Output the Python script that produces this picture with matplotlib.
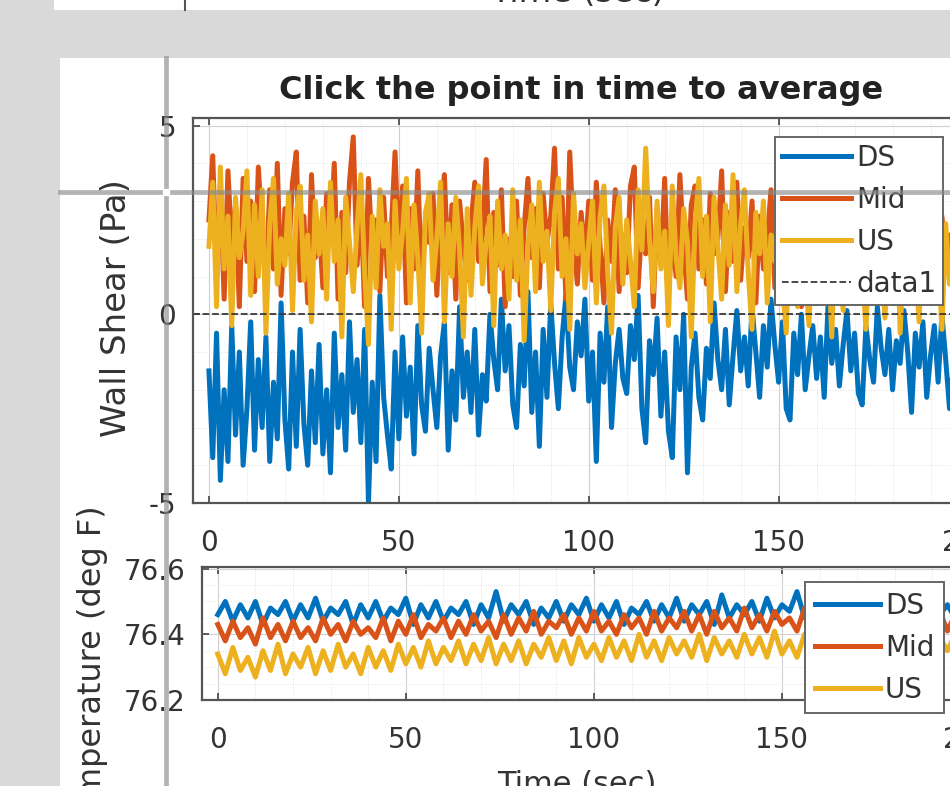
import numpy as np
import matplotlib
matplotlib.use('Agg')
import matplotlib.pyplot as plt
from matplotlib.lines import Line2D
from matplotlib.patches import Rectangle
from matplotlib.ticker import MultipleLocator

# wall shear (Pa), one value per second, t = 0..199
t_shear = np.arange(200)
DS = [-1.5, -3.8, -0.5, -4.4, -2.0, -3.9, -0.3, -3.2, -1.0, -4.0,
      -2.5, -0.2, -3.6, -1.2, -3.0, -0.6, -3.9, -1.8, -3.3, 0.3,
      -2.8, -4.1, -1.0, -3.5, -0.4, -2.9, -4.0, -1.5, -3.4, -0.8,
      -3.7, -2.0, -4.2, -0.5, -3.0, -1.6, -3.6, -0.2, -2.6, -1.2,
      -3.4, -0.4, -5.0, -1.8, -3.9, 0.5, -2.2, -3.2, -4.1, -1.0,
      -3.3, -0.6, -2.7, -1.4, -3.7, -0.3, -2.4, -3.1, -0.9, -2.0,
      -3.0, -1.1, -0.2, -3.6, -1.5, -2.8, 0.2, -2.2, -1.0, -2.6,
      -0.4, -3.2, -1.6, -2.3, 0.0, -1.2, -2.0, 0.4, -1.5, -0.3,
      -2.4, -3.0, -0.8, -1.9, 0.6, -2.6, -1.0, -3.5, -0.4, -2.2,
      0.3, -1.3, -2.5, -0.6, 0.5, -1.4, -2.0, -0.2, -1.1, 0.4,
      -2.3, -1.0, -3.9, -0.5, -1.8, 0.2, -3.0, -1.3, -0.4, -1.7,
      -2.1, -0.3, -1.2, 0.5, -2.5, -3.4, -0.7, -1.6, -0.1, -2.7,
      -1.0, -3.1, -3.8, -0.6, -2.0, 0.0, -4.2, -1.4, -0.5, -2.2,
      -2.8, -0.9, -1.7, 0.3, -1.2, -2.0, -0.4, -2.4, -1.1, 0.1,
      -1.5, -0.6, -1.9, 0.2, -1.0, -2.2, -0.3, -1.4, 0.4, -0.8,
      -1.8, -0.2, -2.5, -2.8, -0.5, -1.6, 0.0, -2.0, -1.1, -0.3,
      -1.7, -0.6, -2.2, 0.2, -1.3, -0.4, -1.9, -0.8, 0.1, -1.5,
      -0.5, -2.1, -2.4, -0.3, -1.2, -1.8, 0.2, -0.9, -1.6, -0.4,
      -2.0, -0.7, -1.3, 0.1, -1.0, -2.6, -0.5, -1.4, -0.2, -2.2,
      -1.1, -0.3, -1.8, 0.0, -1.2, -2.5, -0.6, -1.5, -0.4, -1.0]
Mid = [2.5, 4.2, 1.0, 3.4, 0.4, 3.8, 1.8, 2.9, 0.2, 3.6,
       1.4, 3.0, 0.6, 3.9, 2.2, 0.8, 3.3, 1.2, 4.0, 0.5,
       2.8, 1.6, 3.5, 4.3, 0.9, 2.6, 0.3, 3.7, 1.5, 2.4,
       0.7, 3.2, 1.9, 4.0, 0.4, 2.7, 1.1, 3.5, 4.7, 1.3,
       2.9, 0.2, 3.6, 1.7, 2.5, 0.6, 3.1, 1.0, 2.2, 4.3,
       1.6, 3.4, 0.3, 2.8, 1.2, 3.8, 0.8, 2.5, 1.9, 3.2,
       0.5, 2.6, 3.7, 1.1, 2.9, 0.4, 3.0, 1.8, 0.9, 2.4,
       3.5, 1.4, 2.1, 4.1, 0.6, 2.7, 1.3, 3.3, 0.2, 2.0,
       1.0, 3.0, 0.5, 2.3, 3.6, 1.5, 2.8, 0.7, 3.2, 1.9,
       2.6, 4.4, 1.2, 3.1, 0.4, 4.3, 2.0, 0.8, 2.7, 1.5,
       3.0, 0.9, 3.5, 1.8, 0.3, 2.5, 1.4, 3.3, 0.6, 2.1,
       1.1, 3.4, 3.9, 0.7, 2.4, 1.6, 3.1, 0.2, 2.8, 1.3,
       3.6, 0.5, 2.2, 1.0, 3.7, 1.8, 0.4, 2.9, 3.4, 1.2,
       2.5, 0.8, 3.2, 1.6, 2.0, 3.8, 0.6, 2.7, 1.4, 3.5,
       0.9, 2.3, 1.5, 3.0, 0.3, 2.6, 1.2, 2.0, 3.3, 0.7,
       2.4, 1.0, 2.9, 0.5, 1.8, 3.1, 0.2, 2.2, 1.4, 2.8,
       0.6, 2.0, 3.0, 1.1, 2.5, 0.4, 1.9, 2.7, 0.8, 2.3,
       1.5, 3.2, 0.7, 2.1, 1.2, 2.6, 0.3, 1.8, 2.9, 1.0,
       2.2, 0.5, 2.8, 1.6, 0.9, 2.4, 1.3, 3.0, 0.6, 1.7,
       2.5, 1.1, 0.4, 2.6, 1.5, 2.1, 0.8, 2.7, 1.2, 1.9]
US = [1.8, 3.5, 0.2, 3.9, 1.2, 2.6, -0.3, 3.1, 1.5, 2.2,
      3.8, 0.5, 2.9, 1.0, 3.3, -0.5, 2.4, 3.6, 0.8, 2.0,
      1.3, 3.2, 0.1, 2.7, 3.4, 0.9, 2.1, -0.2, 3.0, 1.6,
      2.8, 0.4, 3.5, 1.4, 2.5, -0.6, 3.1, 1.9, 0.6, 2.3,
      3.7, 1.1, -0.8, 2.6, 0.7, 3.3, 1.8, 2.4, -0.4, 3.0,
      1.2, 2.2, 3.6, 0.3, 2.9, 1.5, -0.5, 2.7, 3.2, 0.9,
      2.0, 3.5, -0.2, 2.4, 1.0, 3.1, 1.7, -0.6, 2.8, 0.5,
      2.3, 3.4, 0.8, 1.9, 2.6, -0.3, 3.0, 1.2, 2.1, 0.4,
      3.3, 0.9, 2.5, -0.7, 1.8, 2.9, 0.6, 3.5, 1.4, 2.2,
      0.1, 2.7, 3.6, 1.0, 2.0, -0.4, 3.2, 1.6, 2.4, 0.7,
      1.9, 3.0, 0.3, 2.6, 3.4, 1.1, -0.5, 2.3, 3.1, 0.8,
      2.5, 1.4, 0.2, 3.3, 1.7, 4.4, 2.0, 0.6, 3.0, 1.2,
      2.2, -0.3, 3.4, 1.5, 0.7, 2.8, 1.9, -0.6, 2.4, 3.6,
      1.0, 2.6, -0.2, 3.1, 1.8, 0.4, 2.9, 1.3, 3.7, 0.6,
      2.4, 3.3, 1.1, -0.4, 2.7, 1.6, 3.0, 0.3, 2.1, 1.4,
      3.2, 0.8, -0.5, 2.5, 1.7, 0.2, 2.8, 1.1, -0.3, 2.3,
      1.5, 2.9, 0.4, 1.9, -0.6, 2.6, 1.2, 0.1, 2.4, 1.7,
      0.6, 2.7, 1.3, -0.4, 2.2, 0.9, 2.5, 1.6, -0.1, 2.0,
      1.1, 2.8, -0.5, 1.8, 2.3, 0.5, 1.4, -0.2, 2.6, 1.0,
      0.3, 2.1, 1.6, -0.4, 2.4, 0.8, 1.3, 2.0, 0.2, 1.5]

# temperature (deg F), one value every 2 s, t = 0..198
t_temp = np.arange(0, 200, 2)
DS_T = [76.46, 76.50, 76.44, 76.49, 76.45, 76.50, 76.43, 76.48, 76.46, 76.50,
        76.44, 76.49, 76.45, 76.51, 76.44, 76.48, 76.46, 76.50, 76.43, 76.49,
        76.45, 76.50, 76.44, 76.48, 76.46, 76.51, 76.43, 76.49, 76.45, 76.50,
        76.44, 76.48, 76.46, 76.50, 76.43, 76.49, 76.45, 76.53, 76.44, 76.49,
        76.46, 76.50, 76.43, 76.48, 76.45, 76.50, 76.44, 76.49, 76.46, 76.51,
        76.44, 76.49, 76.45, 76.50, 76.43, 76.48, 76.46, 76.50, 76.44, 76.49,
        76.45, 76.51, 76.44, 76.49, 76.46, 76.50, 76.43, 76.52, 76.45, 76.49,
        76.46, 76.50, 76.44, 76.51, 76.45, 76.49, 76.47, 76.53, 76.45, 76.50,
        76.46, 76.51, 76.44, 76.49, 76.46, 76.50, 76.45, 76.51, 76.44, 76.50,
        76.46, 76.49, 76.45, 76.51, 76.44, 76.50, 76.46, 76.49, 76.45, 76.50]
Mid_T = [76.43, 76.38, 76.44, 76.39, 76.42, 76.37, 76.45, 76.39, 76.43, 76.38,
         76.44, 76.39, 76.42, 76.38, 76.45, 76.40, 76.43, 76.38, 76.44, 76.40,
         76.42, 76.39, 76.45, 76.38, 76.44, 76.40, 76.46, 76.39, 76.43, 76.41,
         76.45, 76.39, 76.44, 76.40, 76.46, 76.41, 76.44, 76.39, 76.46, 76.40,
         76.45, 76.41, 76.47, 76.40, 76.44, 76.42, 76.46, 76.40, 76.45, 76.41,
         76.47, 76.41, 76.44, 76.40, 76.46, 76.42, 76.45, 76.40, 76.47, 76.41,
         76.45, 76.42, 76.47, 76.41, 76.46, 76.40, 76.47, 76.42, 76.45, 76.41,
         76.48, 76.42, 76.46, 76.41, 76.47, 76.43, 76.45, 76.41, 76.48, 76.42,
         76.46, 76.41, 76.47, 76.42, 76.45, 76.41, 76.47, 76.42, 76.46, 76.41,
         76.47, 76.42, 76.45, 76.41, 76.46, 76.42, 76.47, 76.41, 76.46, 76.42]
US_T = [76.34, 76.28, 76.36, 76.29, 76.33, 76.27, 76.35, 76.29, 76.37, 76.28,
        76.34, 76.30, 76.36, 76.28, 76.35, 76.29, 76.37, 76.30, 76.34, 76.28,
        76.36, 76.30, 76.35, 76.29, 76.37, 76.31, 76.36, 76.30, 76.38, 76.31,
        76.36, 76.32, 76.38, 76.31, 76.37, 76.32, 76.39, 76.31, 76.37, 76.32,
        76.38, 76.31, 76.37, 76.33, 76.39, 76.32, 76.38, 76.31, 76.39, 76.33,
        76.37, 76.32, 76.39, 76.33, 76.38, 76.32, 76.40, 76.33, 76.38, 76.32,
        76.39, 76.34, 76.38, 76.33, 76.40, 76.32, 76.39, 76.34, 76.38, 76.33,
        76.40, 76.34, 76.39, 76.33, 76.41, 76.34, 76.38, 76.33, 76.40, 76.35,
        76.39, 76.34, 76.40, 76.33, 76.39, 76.35, 76.41, 76.34, 76.39, 76.33,
        76.40, 76.35, 76.39, 76.34, 76.40, 76.33, 76.39, 76.35, 76.40, 76.34]

labels = ['DS', 'Mid', 'US']
colors = ['#0072BD', '#D95319', '#EDB120']

W, H = 950, 786
def fx(x):
    return x / W
def fy(y):
    return 1 - y / H

fig = plt.figure(figsize=(9.5, 7.86), dpi=100, facecolor='#d9d9d9')

# white figure windows (previous one peeking at the top)
fig.patches.append(Rectangle((fx(60), 0), 1 - fx(60), fy(58), transform=fig.transFigure,
                             facecolor='white', edgecolor='none', zorder=-5))
fig.patches.append(Rectangle((fx(54), fy(10)), 1 - fx(54), 10 / H, transform=fig.transFigure,
                             facecolor='white', edgecolor='none', zorder=-5))
fig.lines.append(Line2D([fx(185), fx(185)], [fy(10), 1], transform=fig.transFigure,
                        color='#555555', lw=1.5))
fig.text(fx(577), fy(9), 'Time (sec)', ha='center', va='bottom', fontsize=24, color='#333333')

ax1 = fig.add_axes([fx(193), fy(503), (968.5 - 193) / W, (503 - 118) / H])
ax2 = fig.add_axes([fx(202), fy(700), (970 - 202) / W, (700 - 567) / H])

lw = 3.6
for y, lab, c in zip([DS, Mid, US], labels, colors):
    ax1.plot(t_shear, y, color=c, lw=lw, label=lab)
ax1.axhline(0, color='#3a3a3a', ls='--', lw=1.3, label='data1')

for y, lab, c in zip([DS_T, Mid_T, US_T], labels, colors):
    ax2.plot(t_temp, y, color=c, lw=lw, label=lab)

ax1.set_xlim(-4.2, 199.5)
ax1.set_ylim(-5, 5.2)
ax1.set_yticks([-5, 0, 5])
ax1.set_yticklabels(['-5', '0', '5'])
ax2.set_xlim(-4.2, 199.5)
ax2.set_ylim(76.209, 76.605)
ax2.set_yticks([76.2, 76.4, 76.6])
ax2.yaxis.set_minor_locator(MultipleLocator(0.05))
ax1.yaxis.set_minor_locator(MultipleLocator(1))

for ax in (ax1, ax2):
    ax.set_xticks([0, 50, 100, 150, 200])
    ax.xaxis.set_minor_locator(MultipleLocator(10))
    ax.grid(True, which='major', color='#d0d0d0', lw=0.8)
    ax.grid(True, which='minor', color='#e2e2e2', lw=0.7, ls=':')
    ax.set_axisbelow(True)
    for s in ax.spines.values():
        s.set_color('#555555')
        s.set_linewidth(1.6)
    ax.tick_params(which='both', direction='in', top=True, right=True, colors='#444444',
                   labelcolor='#333333', labelsize=20)
    ax.tick_params(which='major', length=5, width=1.2)
    ax.tick_params(which='minor', length=0)
    ax.tick_params(axis='x', pad=19)
    ax.tick_params(axis='y', pad=12)

ax1.set_title('Click the point in time to average', fontsize=23, fontweight='bold',
              color='#222222', pad=14)

leg_kw = dict(loc='upper left', fontsize=20, frameon=True, fancybox=False, framealpha=1,
              borderaxespad=0, handletextpad=0.18, labelspacing=0.5)
lg1 = ax1.legend(bbox_to_anchor=(fx(775), fy(137)), bbox_transform=fig.transFigure,
                 borderpad=0.25, handlelength=2.5, **leg_kw)
lg2 = ax2.legend(bbox_to_anchor=(fx(805), fy(582)), bbox_transform=fig.transFigure,
                 borderpad=0.35, handlelength=2.35, **leg_kw)
for lg in (lg1, lg2):
    lg.get_frame().set_edgecolor('#666666')
    lg.get_frame().set_linewidth(1.4)
    for t in lg.get_texts():
        t.set_color('#333333')

fig.text(fx(117), fy(308), 'Wall Shear (Pa)', rotation=90, ha='center', va='center',
         fontsize=24.5, color='#333333')
fig.text(fx(93), fy(505), 'Temperature (deg F)', rotation=90, ha='center', va='top',
         fontsize=23, color='#333333')
fig.text(fx(577), fy(770), 'Time (sec)', ha='center', va='top', fontsize=22, color='#333333')

# ginput crosshair
cross = dict(transform=fig.transFigure, color='#8a8a8a', alpha=0.65, lw=3.4, zorder=50)
fig.lines.append(Line2D([fx(60), fx(160)], [fy(192), fy(192)], **cross))
fig.lines.append(Line2D([fx(172), 1], [fy(192), fy(192)], **cross))
fig.lines.append(Line2D([fx(166), fx(166)], [fy(58), fy(186)], **cross))
fig.lines.append(Line2D([fx(166), fx(166)], [fy(198), 0], **cross))

fig.savefig('out.png', dpi=100, facecolor=fig.get_facecolor())
